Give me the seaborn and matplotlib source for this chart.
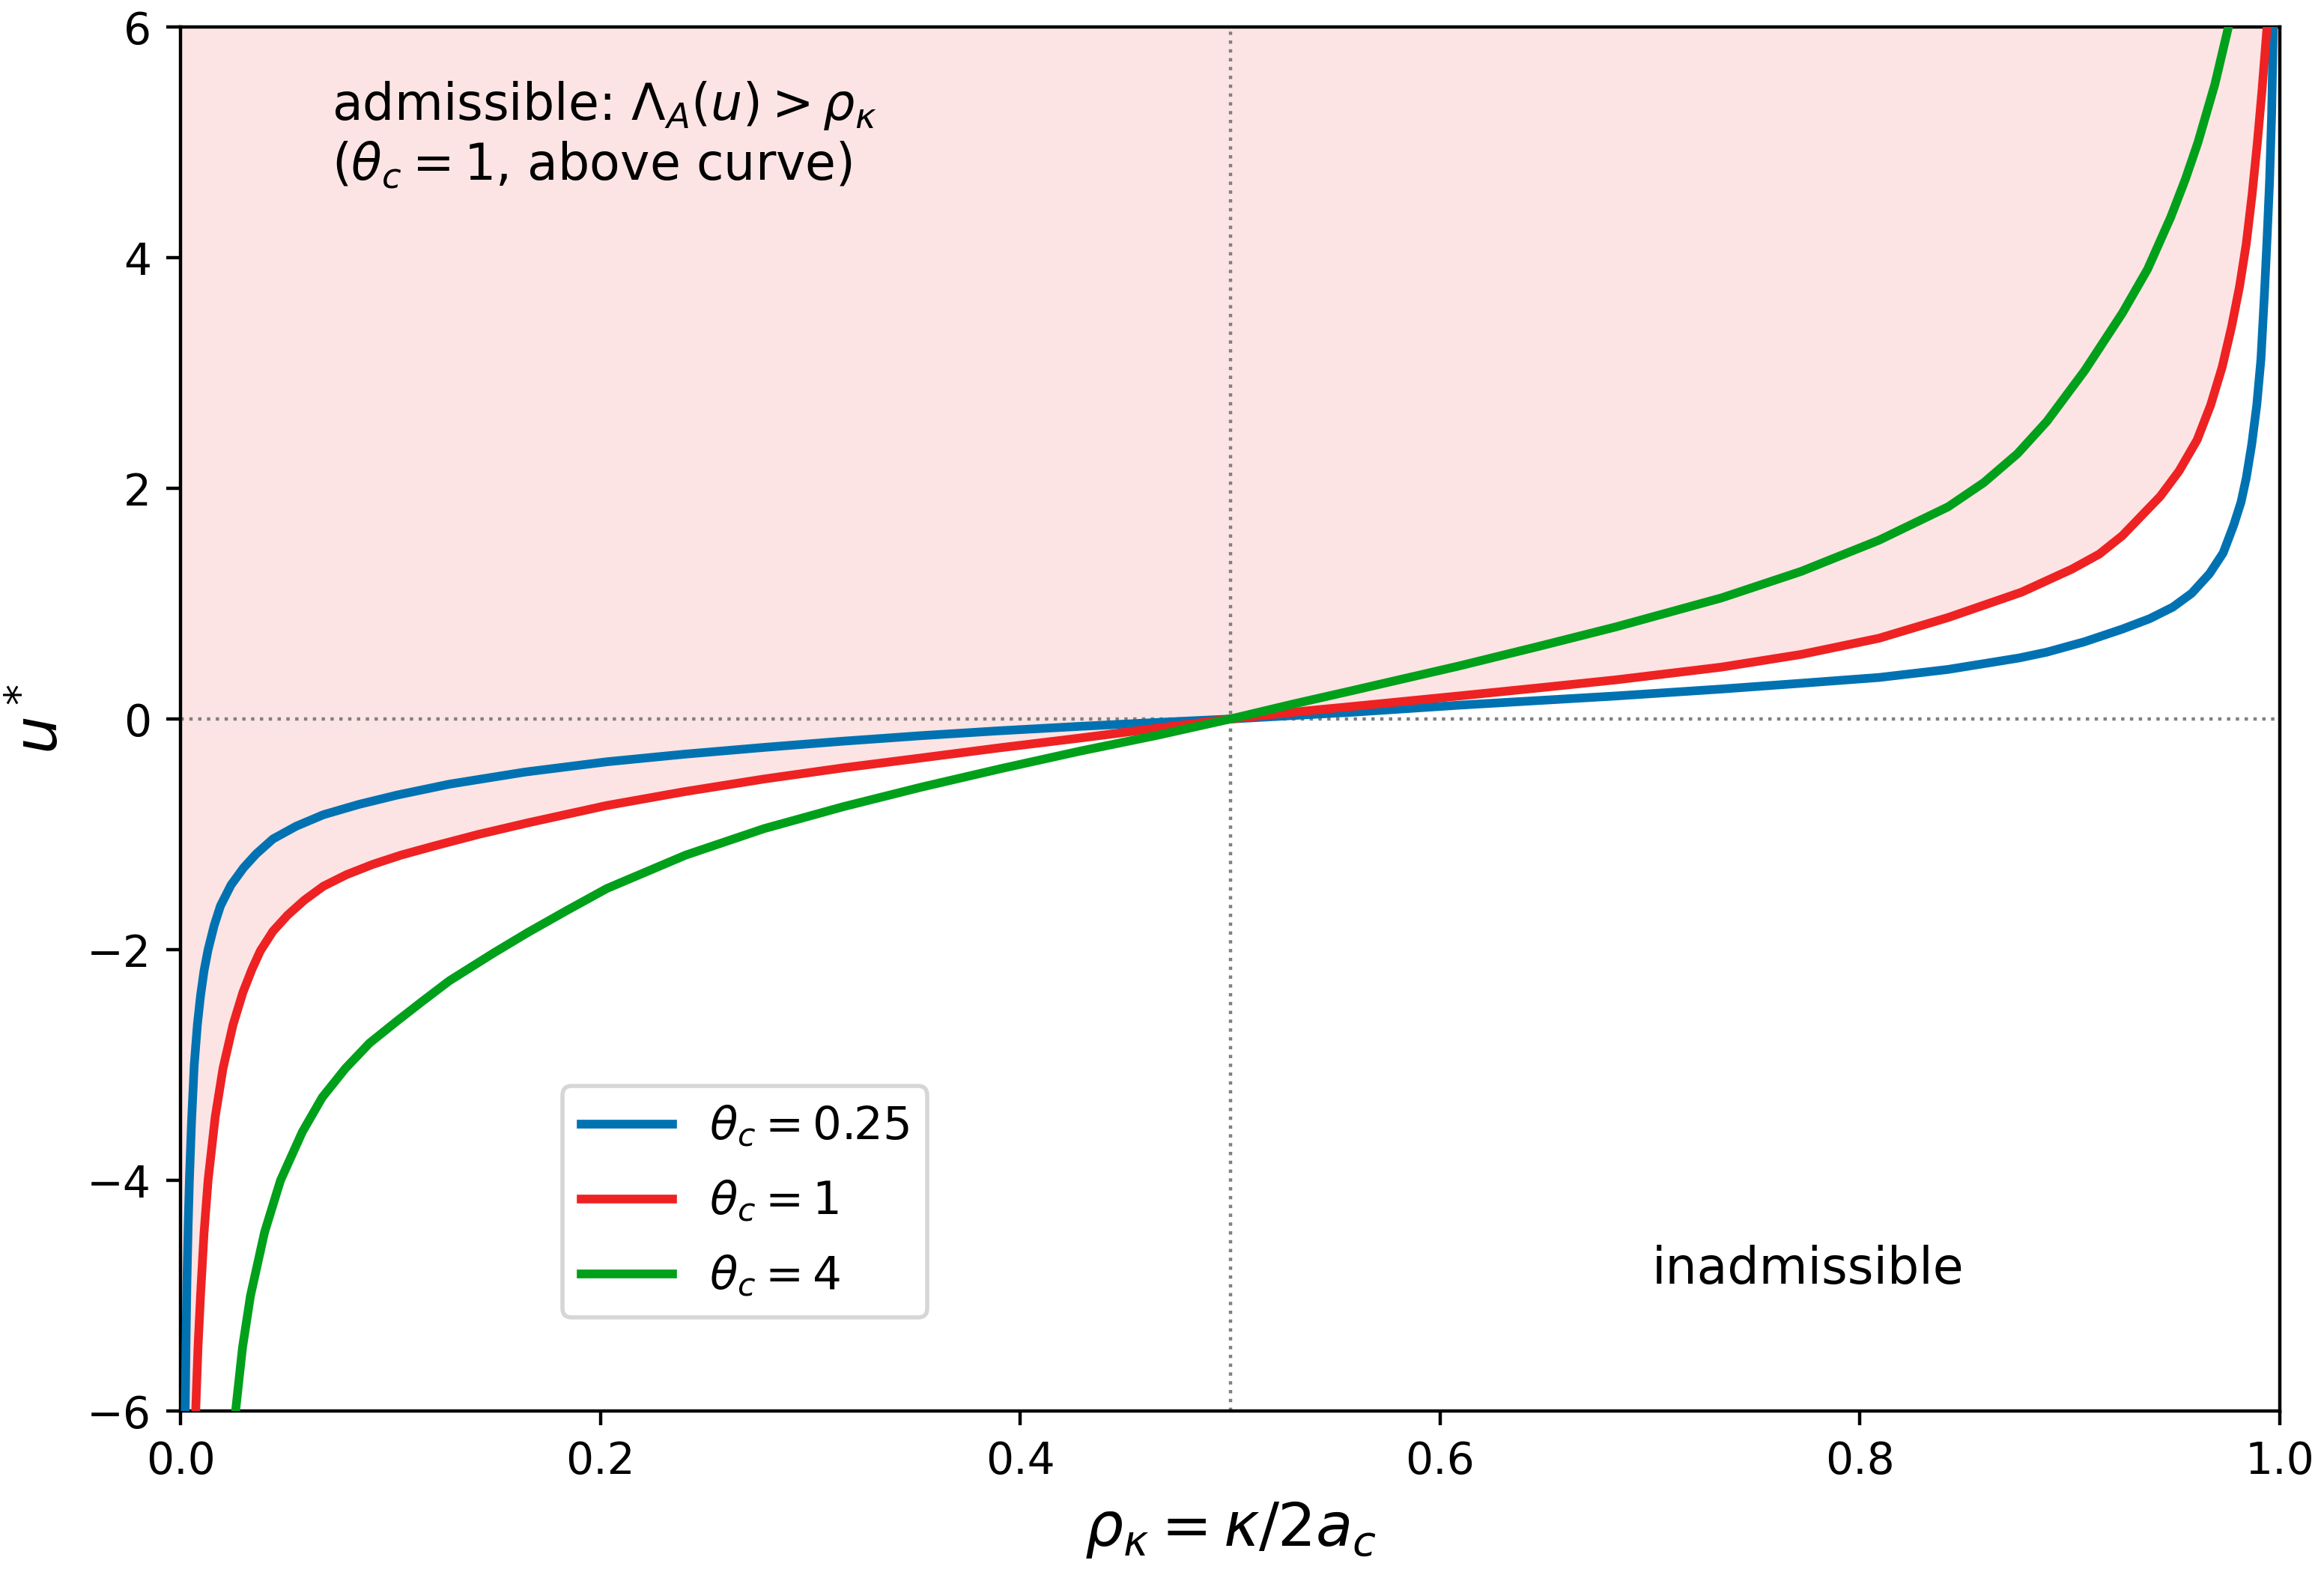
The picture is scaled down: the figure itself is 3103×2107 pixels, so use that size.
import numpy as np
import pandas as pd
import matplotlib
matplotlib.use("Agg")
import matplotlib.pyplot as plt
import seaborn as sns

# ---- data ----
rho_blue = [0.0022, 0.0026, 0.0030, 0.0036, 0.0042, 0.0052, 0.0065, 0.0080, 0.0095, 0.0112,
            0.0131, 0.016, 0.019, 0.024, 0.030, 0.036, 0.044, 0.055, 0.068, 0.085,
            0.103, 0.128, 0.164, 0.203, 0.240, 0.278, 0.315, 0.353, 0.390, 0.428,
            0.464, 0.500, 0.559, 0.609, 0.684, 0.734, 0.772, 0.809, 0.842, 0.876,
            0.889, 0.907, 0.925, 0.938, 0.949, 0.958, 0.9665, 0.973, 0.978, 0.9815,
            0.984, 0.9866, 0.989, 0.991, 0.9927, 0.994, 0.9951, 0.9961, 0.9969]
u_blue = [-6.0, -5.4, -4.9, -4.4, -4.0, -3.5, -3.0, -2.65, -2.4, -2.18,
          -2.0, -1.79, -1.62, -1.44, -1.29, -1.17, -1.04, -0.93, -0.83, -0.74,
          -0.66, -0.565, -0.46, -0.371, -0.305, -0.246, -0.193, -0.144, -0.102, -0.064,
          -0.031, 0.0, 0.06, 0.12, 0.20, 0.26, 0.31, 0.36, 0.43, 0.53,
          0.58, 0.67, 0.78, 0.87, 0.97, 1.09, 1.26, 1.44, 1.68, 1.88,
          2.09, 2.38, 2.72, 3.12, 3.70, 4.20, 4.66, 5.25, 6.0]

rho_red = [0.0072, 0.0083, 0.0095, 0.0112, 0.0131, 0.0165, 0.0202, 0.025, 0.0297, 0.034,
           0.038, 0.044, 0.051, 0.059, 0.068, 0.079, 0.0916, 0.105, 0.121, 0.142,
           0.1655, 0.203, 0.240, 0.278, 0.315, 0.353, 0.390, 0.428, 0.464, 0.500,
           0.536, 0.559, 0.609, 0.647, 0.684, 0.734, 0.772, 0.809, 0.842, 0.877,
           0.901, 0.914, 0.925, 0.943, 0.952, 0.9606, 0.967, 0.9725, 0.977, 0.9808,
           0.984, 0.9868, 0.9893, 0.9915, 0.9939]
u_red = [-6.0, -5.45, -5.0, -4.45, -4.0, -3.45, -3.03, -2.65, -2.37, -2.17,
         -2.01, -1.84, -1.70, -1.57, -1.45, -1.35, -1.26, -1.18, -1.10, -1.00,
         -0.90, -0.75, -0.63, -0.52, -0.425, -0.337, -0.25, -0.166, -0.083, 0.0,
         0.07, 0.11, 0.20, 0.27, 0.34, 0.45, 0.56, 0.70, 0.88, 1.10,
         1.30, 1.43, 1.59, 1.93, 2.15, 2.42, 2.72, 3.05, 3.40, 3.75,
         4.12, 4.55, 5.0, 5.45, 6.0]

rho_green = [0.0262, 0.0295, 0.0333, 0.040, 0.0476, 0.058, 0.0675, 0.0785, 0.090, 0.103,
             0.115, 0.128, 0.149, 0.1655, 0.184, 0.203, 0.2406, 0.278, 0.3157, 0.353,
             0.3908, 0.428, 0.4655, 0.500, 0.530, 0.559, 0.609, 0.647, 0.684, 0.734,
             0.772, 0.809, 0.842, 0.859, 0.875, 0.889, 0.907, 0.925, 0.937, 0.948,
             0.955, 0.961, 0.969, 0.9755]
u_green = [-6.0, -5.45, -5.0, -4.45, -4.0, -3.58, -3.28, -3.03, -2.81, -2.62,
           -2.45, -2.27, -2.03, -1.85, -1.66, -1.47, -1.18, -0.95, -0.76, -0.59,
           -0.43, -0.28, -0.14, 0.0, 0.13, 0.25, 0.46, 0.63, 0.80, 1.05,
           1.28, 1.55, 1.84, 2.05, 2.30, 2.58, 3.02, 3.52, 3.90, 4.35,
           4.68, 5.0, 5.5, 6.0]

labels = [r"$\theta_c = 0.25$", r"$\theta_c = 1$", r"$\theta_c = 4$"]
colors = ["#0072B2", "#EE2222", "#00A01A"]
x_ticks = [0.0, 0.2, 0.4, 0.6, 0.8, 1.0]
y_ticks = [-6, -4, -2, 0, 2, 4, 6]

df = pd.concat([
    pd.DataFrame({"rho": rho_blue, "u": u_blue, "curve": labels[0]}),
    pd.DataFrame({"rho": rho_red, "u": u_red, "curve": labels[1]}),
    pd.DataFrame({"rho": rho_green, "u": u_green, "curve": labels[2]}),
], ignore_index=True)

plt.rcParams["font.family"] = ["DejaVu Sans"]
plt.rcParams["mathtext.fontset"] = "dejavusans"

DPI = 400
fig = plt.figure(figsize=(3103 / DPI, 2107 / DPI), dpi=DPI)
ax = fig.add_axes([0.0777, 0.1058, 0.981 - 0.0777, 0.9829 - 0.1058])

# admissible region (above theta_c = 1 curve)
ax.fill_between([0.0] + rho_red, [-6.0] + u_red, 6.0,
                color="#EE2222", alpha=0.12, linewidth=0, zorder=0)

ax.axhline(0, color="0.5", linestyle=":", linewidth=0.8, zorder=1)
ax.axvline(0.5, color="0.5", linestyle=":", linewidth=0.8, zorder=1)

sns.lineplot(data=df, x="rho", y="u", hue="curve", hue_order=labels,
             palette=colors, estimator=None, sort=False, linewidth=2.1,
             ax=ax, zorder=3)

ax.set_xlim(0, 1)
ax.set_ylim(-6, 6)
ax.set_xticks(x_ticks)
ax.set_yticks(y_ticks)
ax.tick_params(labelsize=10.5)
ax.set_xlabel(r"$\rho_\kappa = \kappa/2a_c$", fontsize=14.5)
ax.set_ylabel(r"$u^*$", fontsize=14.5)

ax.text(0.072, 0.962, "admissible: $\\Lambda_A(u) > \\rho_\\kappa$\n($\\theta_c = 1$, above curve)",
        transform=ax.transAxes, ha="left", va="top", fontsize=12)
ax.text(0.701, 0.092, "inadmissible", transform=ax.transAxes,
        ha="left", va="baseline", fontsize=12)

leg = ax.legend(loc="lower left", bbox_to_anchor=(0.182, 0.0675),
                borderaxespad=0, fontsize=11, labelspacing=0.65, title=None)

fig.savefig("out.png", dpi=DPI)
